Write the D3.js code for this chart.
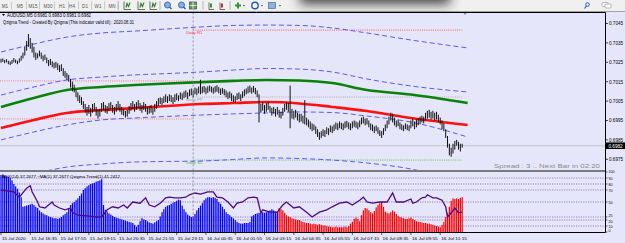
<!DOCTYPE html>
<html><head><meta charset="utf-8">
<script src="https://cdn.jsdelivr.net/npm/d3@7"></script>
<style>
body{margin:0;background:#e6e6fa;overflow:hidden}
svg{display:block}
text{font-family:"Liberation Sans",Arial,sans-serif}
</style>
</head><body>
<svg id="c" width="625" height="243"></svg>
<script>
// ---------------- DATA ----------------
// price values in points: price = value / 100000
const highs = [70268,70270,70262,70266,70258,70254,70262,70272,70264,70258,
70270,70284,70300,70330,70360,70396,70375,70350,70330,70300,
70296,70310,70300,70285,70290,70275,70262,70268,70255,70248,
70252,70245,70235,70240,70220,70205,70195,70185,70165,70150,
70135,70110,70095,70080,70070,70050,70035,70020,70030,70015,
70035,70040,70020,70005,70010,70040,70045,70030,70025,70040,
70045,70030,70020,70035,70050,70035,70020,70010,70000,70005,
70025,70040,70050,70035,70045,70055,70040,70030,70045,70035,
70020,70025,70030,70015,70035,70050,70065,70070,70065,70075,
70085,70075,70085,70080,70070,70085,70090,70080,70095,70090,
70100,70105,70095,70110,70115,70105,70120,70115,70125,70160,
70125,70128,70120,70126,70130,70125,70120,70127,70132,70122,
70115,70118,70112,70105,70095,70100,70090,70080,70075,70090,
70095,70085,70100,70110,70115,70125,70130,70120,70128,70118,
70105,70085,70035,70045,70030,70040,70045,70025,70015,70020,
70010,70020,70005,69995,70015,70035,70045,70040,70130,70010,
70000,70005,69990,69985,69985,69975,70055,69965,69955,69945,
69935,69930,69920,69905,69890,69895,69905,69900,69915,69910,
69925,69920,69930,69940,69935,69945,69938,69935,69945,69948,
69940,69935,69945,69950,69945,69940,69950,69965,69970,69960,
69962,69950,69935,69930,69920,69925,69915,69900,69895,69910,
69930,69950,69970,69990,69985,69965,69950,69955,69940,69930,
69925,69935,69930,69925,69950,69960,69945,69955,69962,69970,
69975,69970,69990,70000,70005,69995,70000,69990,69995,69980,
69965,69950,69935,69905,69870,69830,69810,69830,69845,69850,
69840,69830,69830];
const lows = [70248,70252,70245,70250,70240,70236,70242,70250,70246,70240,
70248,70258,70270,70285,70310,70330,70320,70300,70275,70262,
70270,70280,70268,70255,70262,70245,70230,70236,70225,70218,
70222,70210,70200,70205,70180,70170,70160,70150,70120,70100,
70095,70070,70050,70040,70030,70010,69990,69975,69985,69970,
69990,70000,69975,69960,69970,69995,70005,69990,69985,70000,
70010,69990,69980,69995,70005,69995,69980,69975,69965,69970,
69985,70000,70010,69995,70005,70015,70000,69990,70005,69995,
69980,69985,69990,69980,69995,70010,70025,70035,70030,70040,
70045,70040,70050,70045,70035,70045,70055,70050,70060,70055,
70065,70070,70060,70075,70080,70070,70085,70080,70090,70085,
70090,70095,70085,70092,70100,70095,70088,70094,70098,70090,
70082,70088,70080,70070,70060,70065,70050,70045,70040,70055,
70060,70050,70065,70075,70085,70090,70095,70088,70095,70085,
70070,69940,69990,70000,69985,69995,70005,69990,69975,69985,
69970,69980,69965,69960,69975,69995,70005,69995,69910,69960,
69955,69965,69950,69940,69945,69935,69930,69925,69915,69905,
69895,69900,69880,69865,69850,69860,69870,69865,69880,69875,
69890,69885,69895,69905,69900,69910,69905,69900,69910,69915,
69905,69900,69910,69918,69912,69905,69915,69930,69935,69925,
69930,69915,69900,69895,69885,69895,69880,69870,69860,69875,
69895,69910,69930,69950,69940,69925,69915,69920,69905,69900,
69895,69905,69900,69895,69910,69920,69905,69915,69925,69930,
69940,69935,69950,69960,69965,69955,69960,69950,69955,69940,
69930,69905,69895,69860,69810,69770,69763,69780,69800,69820,
69800,69790,69810];
const lastPrice = 69820;

// smooth envelope curves sampled at bar indices
const curveBars = [0,18,36,55,73,91,109,127,145,163,181,200,224,255];
const bandTop    = [70303,70344,70380,70401,70411,70422,70432,70440,70442,70440,70427,70401,70365,70324];
const bandUpper  = [70081,70123,70159,70174,70185,70192,70200,70210,70218,70215,70200,70164,70128,70097];
const bandLower  = [69850,69891,69927,69953,69963,69971,69978,69984,69989,69994,69991,69973,69942,69865];
const bandBottom = [69618,69674,69710,69726,69736,69739,69741,69749,69757,69754,69746,69731,69700,69624];
const maGreen    = [70020,70066,70107,70123,70133,70141,70148,70154,70159,70156,70143,70107,70084,70040];
const maRed      = [69911,69953,69989,70004,70014,70025,70035,70040,70045,70038,70020,69999,69963,69927];

// pivot levels
const dayStartBar = 105;
const pivotEndBar = 252;
const pivotNames  = ["Daily R1","Daily PP","Daily S1"];
const pivotValues = [70416,70071,69746];
const prevDayLevels = [70154,69958];

// indicator subwindow
const hist = [95,96,94,93,92,90,86,80,76,72,66,58,42,43,44,45,46,47,45,42,
40,36,33,31,29,28,26,25,24,23,23,22,23,25,28,30,33,40,45,48,
50,53,56,60,64,70,73,76,78,80,81,82,84,85,86,88,45,37,34,31,
29,27,25,24,23,22,21,20,19,18,17,16,15,12,9,12,18,23,21,20,
18,16,15,14,16,18,20,26,33,38,42,44,45,47,49,50,52,54,53,44,
38,33,29,27,25,26,30,36,40,44,48,53,56,58,58,57,58,57,55,50,
47,42,38,33,30,28,25,23,20,17,15,14,14,15,15,15,17,26,28,30,
31,32,33,33,32,33,34,36,38,36,34,33,40,38,36,32,28,26,25,23,
22,21,20,20,18,17,16,15,15,14,13,14,13,12,13,12,11,11,10,9,
9,8,8,9,8,8,8,8,9,8,10,14,17,22,24,22,18,28,36,40,
39,36,33,31,35,41,45,48,50,42,34,32,31,33,36,34,30,27,25,24,
23,22,22,23,24,22,20,18,17,17,16,15,15,14,14,13,12,11,10,9,
8,12,17,25,32,42,52,56,55,56,55,57,58];
const redFrom = 152;
const lineBars = [0,7,10,14,16,17,20,21,24,26,28,29,32,35,38,39,42,47,52,55,58,61,64,67,69,72,76,79,81,84,87,90,92,95,98,101,103,106,109,113,116,118,121,124,127,129,132,135,138,140,142,143,147,151,154,156,160,163,167,170,174,178,181,185,189,192,196,198,200,203,207,211,214,216,220,224,225,227,230,232,233,236,238,241,243,244,246,248,250,252];
const lineVals = [70,67,58,73,77,67,50,42,40,45,50,45,40,37,40,33,28,27,25,25,37,42,40,45,40,50,48,57,45,42,48,57,58,57,57,58,62,65,63,67,67,58,57,50,40,48,50,57,58,57,32,37,33,33,45,50,40,42,33,25,33,37,42,48,50,45,53,58,50,48,50,50,65,50,50,55,48,50,57,58,62,57,57,53,42,25,32,40,32,33];
const levels = [90,80,70,50,25,20,10];
const subTicks = [100,90,80,70,50,25,20,10,0];

// axes
const priceTicks = [69750,69850,69950,70050,70150,70250,70350,70450];
const timeLabels = ["15 Jul 2020","15 Jul 16:35","15 Jul 17:55","15 Jul 19:15","15 Jul 20:35","15 Jul 21:55","15 Jul 23:15","16 Jul 00:35","16 Jul 01:55","16 Jul 03:15","16 Jul 04:35","16 Jul 05:55","16 Jul 07:15","16 Jul 08:35","16 Jul 09:55","16 Jul 11:15"];
const timeLabelEvery = 16;
const timeframes = ["M1","M5","M15","M30","H1","H4","D1","W1","MN"];

// ---------------- DRAW ----------------
const svg = d3.select('#c');
const N = highs.length;
const step = 1.83;
const x = d3.scaleLinear().domain([0,100]).range([1, 1+100*step]);
const y = d3.scaleLinear().domain([69750,70450]).range([159.3,23.5]);
const ys = d3.scaleLinear().domain([0,100]).range([232,172]);
const fmt = v => (v/100000).toFixed(4);

const defs = svg.append('defs');
defs.append('clipPath').attr('id','mainClip').append('rect').attr('x',0).attr('y',12.5).attr('width',605).attr('height',157.5);
defs.append('clipPath').attr('id','subClip').append('rect').attr('x',0).attr('y',172.5).attr('width',605).attr('height',59.5);
const blur = defs.append('filter').attr('id','blur').attr('x','-50%').attr('y','-50%').attr('width','200%').attr('height','200%');
blur.append('feGaussianBlur').attr('stdDeviation',6);

// background
svg.append('rect').attr('width',625).attr('height',243).attr('fill','#e6e6fa');

// ---- toolbar ----
const tb = svg.append('g');
tb.append('rect').attr('x',0).attr('y',0).attr('width',625).attr('height',11).attr('fill','#f0f0f0');
tb.append('line').attr('x1',0).attr('x2',625).attr('y1',11.5).attr('y2',11.5).attr('stroke','#a0a0a0');
const tfx = [5,20,33,48,62,72,85,98,112];
timeframes.forEach((t,i)=>{
  tb.append('text').attr('x',tfx[i]).attr('y',7.5).attr('font-size',4.6).attr('fill','#555').attr('text-anchor','middle').text(t);
  tb.append('line').attr('x1',tfx[i]+6.5).attr('x2',tfx[i]+6.5).attr('y1',1.5).attr('y2',9.5).attr('stroke','#c8c8c8');
});
// toolbar icons (simple glyphs)
const icon = (cx) => tb.append('g').attr('transform',`translate(${cx},5.5)`);
[[127,'#2a8a2a'],[141,'#2a8a2a'],[153,'#3a7a3a']].forEach(([cx,c])=>{
  const g=icon(cx);
  g.append('line').attr('x1',-3).attr('x2',-3).attr('y1',-4).attr('y2',4).attr('stroke','#333').attr('stroke-width',0.7);
  g.append('line').attr('x1',-3).attr('x2',4).attr('y1',4).attr('y2',4).attr('stroke','#333').attr('stroke-width',0.7);
  g.append('path').attr('d','M-1,2 L0,-2 L1.5,1 L3,-3').attr('stroke',c).attr('fill','none').attr('stroke-width',1.2);
});
[168,182].forEach(cx=>{
  const g=icon(cx);
  g.append('circle').attr('r',3).attr('cx',-0.5).attr('cy',-0.5).attr('fill','#7fb0e8').attr('stroke','#2a5aa0').attr('stroke-width',0.8);
  g.append('line').attr('x1',1.5).attr('y1',1.5).attr('x2',3.5).attr('y2',3.5).attr('stroke','#2a5aa0').attr('stroke-width',1.2);
});
{const g=icon(193);g.append('rect').attr('x',-3.5).attr('y',-3.5).attr('width',7).attr('height',7).attr('fill','#6a9a4a').attr('stroke','#3a5a8a').attr('stroke-width',0.8);
 g.append('line').attr('x1',-3.5).attr('x2',3.5).attr('y1',0).attr('y2',0).attr('stroke','#fff').attr('stroke-width',0.7);
 g.append('line').attr('x1',0).attr('x2',0).attr('y1',-3.5).attr('y2',3.5).attr('stroke','#fff').attr('stroke-width',0.7);}
[211,222].forEach(cx=>{
  const g=icon(cx);
  g.append('line').attr('x1',-2).attr('x2',-2).attr('y1',-3).attr('y2',4).attr('stroke','#333').attr('stroke-width',0.7);
  g.append('line').attr('x1',-2).attr('x2',3).attr('y1',4).attr('y2',4).attr('stroke','#333').attr('stroke-width',0.7);
  g.append('rect').attr('x',-1).attr('y',-2).attr('width',2).attr('height',4).attr('fill',cx===211?'#2a9a2a':'#c03030');
});
{const g=icon(238);g.append('path').attr('d','M-3,0 H3 M0,-3 V3').attr('stroke','#2a9a2a').attr('stroke-width',2);}
{const g=icon(255);g.append('circle').attr('r',3.2).attr('fill','#fff').attr('stroke','#2a5ab0').attr('stroke-width',1.4);}
{const g=icon(272);g.append('rect').attr('x',-3.5).attr('y',-3).attr('width',7).attr('height',6).attr('fill','#8ab4e0').attr('stroke','#4a6a9a').attr('stroke-width',0.7);}
[243,261,279].forEach(cx=>tb.append('path').attr('d',`M${cx},5 l2,0 l-1,1.5z`).attr('fill','#333'));
[118,160,203,230].forEach(sx=>tb.append('line').attr('x1',sx).attr('x2',sx).attr('y1',1).attr('y2',10).attr('stroke','#b8b8b8'));
// popup shadow
tb.append('rect').attr('x',300).attr('y',-14).attr('width',150).attr('height',18).attr('fill','#202020').attr('opacity',0.85).attr('filter','url(#blur)');
tb.append('rect').attr('x',290).attr('y',-10).attr('width',150).attr('height',10).attr('fill','#f0f0f0');
// right icons
{const g=icon(587);g.append('circle').attr('r',1.8).attr('cx',0.5).attr('cy',-1).attr('fill','none').attr('stroke','#1a5ad0').attr('stroke-width',1);
 g.append('line').attr('x1',-0.5).attr('y1',0.5).attr('x2',-2.5).attr('y2',3).attr('stroke','#1a5ad0').attr('stroke-width',1.2);}
{const g=icon(605);g.append('rect').attr('x',-3).attr('y',-3).attr('width',6).attr('height',4).attr('rx',1).attr('fill','#fff').attr('stroke','#999').attr('stroke-width',0.7);
 g.append('rect').attr('x',0).attr('y',-1.5).attr('width',6).attr('height',4).attr('rx',1).attr('fill','#fff').attr('stroke','#999').attr('stroke-width',0.7);}

// ---- main panel ----
const main = svg.append('g').attr('clip-path','url(#mainClip)');
prevDayLevels.forEach(v=>main.append('line').attr('x1',x(0)-1).attr('x2',x(dayStartBar)).attr('y1',y(v)).attr('y2',y(v))
  .attr('stroke','#ff5a5a').attr('stroke-width',0.8).attr('stroke-dasharray','1,1.2'));
const pivotColors = ['#ff3030','#a0a0a0','#30c030'];
pivotValues.forEach((v,i)=>{
  main.append('line').attr('x1',x(dayStartBar)).attr('x2',x(pivotEndBar)).attr('y1',y(v)).attr('y2',y(v))
    .attr('stroke',pivotColors[i]).attr('stroke-width',0.8).attr('stroke-dasharray','1,1.2');
  main.append('text').attr('x',x(dayStartBar)-7).attr('y',y(v)+3.5).attr('font-size',4.3).attr('fill',pivotColors[i]).text(pivotNames[i]);
});
main.append('line').attr('x1',0).attr('x2',605).attr('y1',y(lastPrice)).attr('y2',y(lastPrice)).attr('stroke','#c4c4cc').attr('stroke-width',1);

const curve = d3.line().x((d,i)=>x(curveBars[i])).y(d=>y(d)).curve(d3.curveMonotoneX);
[bandTop,bandUpper,bandLower,bandBottom].forEach(b=>main.append('path').attr('d',curve(b)).attr('fill','none')
  .attr('stroke','#4848f0').attr('stroke-width',0.9).attr('stroke-dasharray','5,3'));
main.append('path').attr('d',curve(maGreen)).attr('fill','none').attr('stroke','#0a820a').attr('stroke-width',2.6);
main.append('path').attr('d',curve(maRed)).attr('fill','none').attr('stroke','#ff1010').attr('stroke-width',2.6);

main.append('g').selectAll('line').data(d3.range(N)).join('line')
  .attr('x1',i=>x(i)).attr('x2',i=>x(i)).attr('y1',i=>y(highs[i])).attr('y2',i=>y(lows[i]))
  .attr('stroke','#101010').attr('stroke-width',1);

// header texts
svg.append('path').attr('d','M2,14 l3,0 l-1.5,2z').attr('fill','#000');
svg.append('text').attr('x',7).attr('y',17).attr('font-size',4.6).attr('fill','#000')
  .attr('textLength',84).attr('lengthAdjust','spacingAndGlyphs').text('AUDUSD,M5  0.6981 0.6983 0.6981 0.6982');
svg.append('text').attr('x',3).attr('y',23.5).attr('font-size',4.6).attr('fill','#000')
  .attr('textLength',131).attr('lengthAdjust','spacingAndGlyphs').text('Qzigma Trend - Created By Qzigma (This indicator valid till) : 2020.08.31');
svg.append('text').attr('x',494).attr('y',168).attr('font-size',5.4).attr('fill','#8a8a8a')
  .attr('font-family','"Liberation Mono",monospace').attr('textLength',106).attr('lengthAdjust','spacingAndGlyphs')
  .text('Spread : 3 .. Next Bar in 02:20');

svg.append('path').attr('d','M463,12.5 l4,0 l-2,2.5z').attr('fill','#909090');

// ---- sub panel ----
const sub = svg.append('g').attr('clip-path','url(#subClip)');
levels.forEach(v=>sub.append('line').attr('x1',0).attr('x2',605).attr('y1',ys(v)).attr('y2',ys(v))
  .attr('stroke','#8a62b8').attr('stroke-width',0.8).attr('stroke-dasharray','1.2,1.2'));
sub.append('g').selectAll('rect').data(d3.range(hist.length)).join('rect')
  .attr('x',i=>x(i)-0.6).attr('width',1.25).attr('y',i=>ys(hist[i])).attr('height',i=>ys(0)-ys(hist[i]))
  .attr('fill',i=>i>=redFrom?'#ff0000':'#0000ff');
sub.append('path').attr('d',d3.line().x((d,i)=>x(lineBars[i])).y(d=>ys(d))(lineVals))
  .attr('fill','none').attr('stroke','#4b0a82').attr('stroke-width',1.3);
svg.append('text').attr('x',2).attr('y',177.5).attr('font-size',4.4).attr('fill','#000')
  .attr('textLength',118).attr('lengthAdjust','spacingAndGlyphs')
  .text('ADX(14) 37.2677  ~MA(1) 37.2677  Qzigma Trend(1) 41.2412');

svg.append('line').attr('x1',x(dayStartBar)).attr('x2',x(dayStartBar)).attr('y1',12.5).attr('y2',232)
  .attr('stroke','#7a7a7a').attr('stroke-width',0.8).attr('stroke-dasharray','2,2');

// ---- frames ----
svg.append('line').attr('x1',0).attr('x2',605.5).attr('y1',12.5).attr('y2',12.5).attr('stroke','#000').attr('stroke-width',1);
svg.append('line').attr('x1',0).attr('x2',605.5).attr('y1',171).attr('y2',171).attr('stroke','#555').attr('stroke-width',1.4);
svg.append('line').attr('x1',0).attr('x2',605.5).attr('y1',232.5).attr('y2',232.5).attr('stroke','#000').attr('stroke-width',1);
svg.append('line').attr('x1',605.5).attr('x2',605.5).attr('y1',12.5).attr('y2',232.5).attr('stroke','#000').attr('stroke-width',1);

// price axis
const pa = svg.append('g');
priceTicks.forEach(v=>{
  pa.append('line').attr('x1',605.5).attr('x2',608).attr('y1',y(v)).attr('y2',y(v)).attr('stroke','#000').attr('stroke-width',0.7);
  pa.append('text').attr('x',609).attr('y',y(v)+1.8).attr('font-size',4.6).attr('fill','#000').text(fmt(v));
});
pa.append('rect').attr('x',606).attr('y',y(lastPrice)-3.3).attr('width',19).attr('height',6.6).attr('fill','#000');
pa.append('text').attr('x',608.5).attr('y',y(lastPrice)+1.8).attr('font-size',4.6).attr('fill','#fff').text(fmt(lastPrice));

// sub axis (labels nudged apart where levels crowd)
const nudge = {100:1.0, 90:2.4, 25:0.2, 20:2.9, 10:1.6, 0:0.4};
subTicks.forEach(v=>{
  pa.append('line').attr('x1',605.5).attr('x2',607.5).attr('y1',ys(v)).attr('y2',ys(v)).attr('stroke','#000').attr('stroke-width',0.6);
  pa.append('text').attr('x',608.5).attr('y',ys(v)+(nudge[v]!==undefined?nudge[v]:1.5)).attr('font-size',3.6).attr('fill','#000').text(v);
});

// time axis
timeLabels.forEach((t,k)=>{
  const xi = x(k*timeLabelEvery);
  pa.append('line').attr('x1',xi).attr('x2',xi).attr('y1',232.5).attr('y2',235).attr('stroke','#000').attr('stroke-width',0.6);
  pa.append('text').attr('x',xi+1).attr('y',239.5).attr('font-size',4.3).attr('fill','#000')
    .attr('textLength',t.length*2.15).attr('lengthAdjust','spacingAndGlyphs').text(t);
});
</script>
</body></html>
